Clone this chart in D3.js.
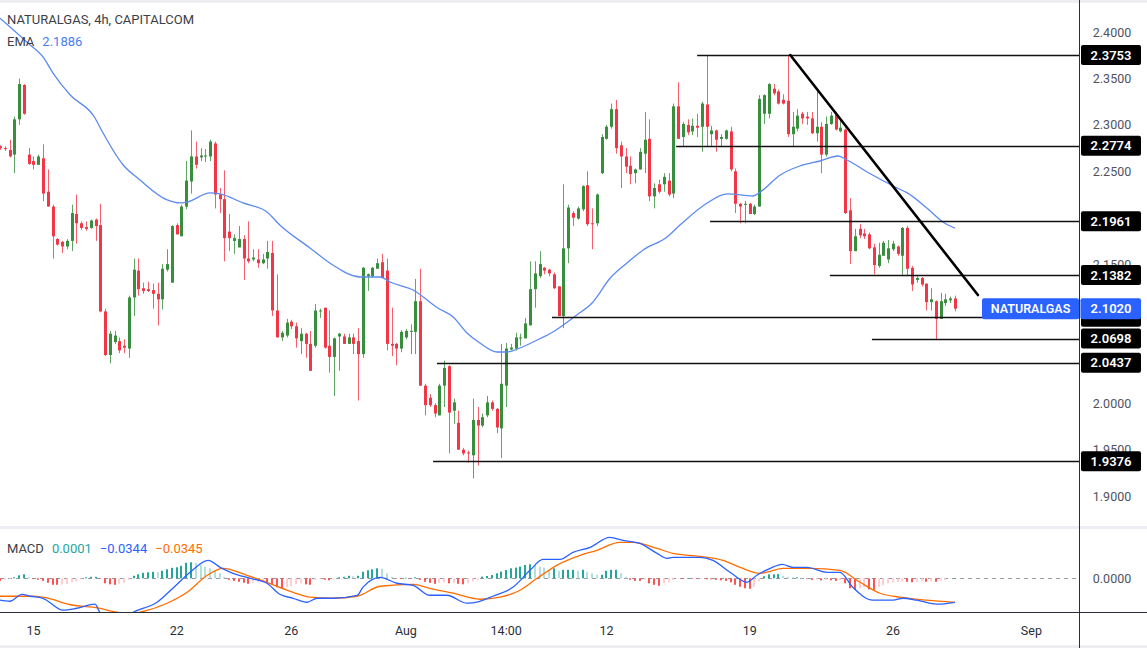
<!DOCTYPE html>
<html><head><meta charset="utf-8">
<script src="https://cdn.jsdelivr.net/npm/d3@7/dist/d3.min.js"></script>
<style>
html,body{margin:0;padding:0;background:#fff;}
svg{display:block;font-family:Roboto,"Noto Sans","DejaVu Sans",sans-serif;}
</style></head><body>
<svg id="chart" width="1147" height="648"></svg>
<script>
// ---------- DATA (4h candles, NATURALGAS) ----------
const open = [
2.277,2.275,2.273,2.268,2.306,2.343,2.268,2.261,2.257,2.264,
2.228,2.212,2.177,2.174,2.169,2.175,2.204,2.194,2.190,2.189,
2.198,2.192,2.099,2.052,2.066,2.067,2.062,2.059,2.114,2.143,
2.124,2.123,2.122,2.118,2.112,2.144,2.130,2.192,2.180,2.212,
2.239,2.266,2.265,2.266,2.266,2.280,2.225,2.220,2.185,2.175,
2.168,2.177,2.156,2.155,2.155,2.151,2.156,2.162,2.100,2.071,
2.073,2.088,2.083,2.067,2.075,2.064,2.062,2.099,2.103,2.062,
2.050,2.072,2.072,2.064,2.071,2.067,2.053,2.137,2.137,2.145,
2.152,2.143,2.064,2.064,2.059,2.071,2.077,2.077,2.110,2.019,
2.006,1.998,1.987,2.019,2.040,1.992,1.979,1.950,1.947,1.944,
1.982,1.976,1.987,2.001,1.994,1.973,2.019,2.058,2.059,2.070,
2.070,2.084,2.123,2.137,2.146,2.144,2.139,2.126,2.094,2.167,
2.205,2.199,2.209,2.235,2.194,2.194,2.248,2.285,2.298,2.317,
2.278,2.266,2.256,2.248,2.252,2.269,2.285,2.223,2.236,2.236,
2.240,2.226,2.320,2.287,2.300,2.293,2.299,2.298,2.322,2.290,
2.294,2.285,2.285,2.293,2.250,2.215,2.214,2.215,2.204,2.212,
2.312,2.312,2.339,2.336,2.327,2.326,2.290,2.296,2.312,2.309,
2.307,2.291,2.298,2.268,2.301,2.311,2.293,2.295,2.208,2.164,
2.188,2.183,2.182,2.168,2.148,2.159,2.155,2.166,2.169,2.159,
2.189,2.146,2.133,2.135,2.129,2.109,2.110,2.091,2.108,2.111,
2.113];
const high = [
2.278,2.277,2.284,2.309,2.350,2.344,2.275,2.266,2.268,2.279,
2.252,2.214,2.178,2.175,2.177,2.214,2.225,2.196,2.196,2.198,
2.199,2.215,2.102,2.078,2.078,2.071,2.069,2.116,2.156,2.156,
2.130,2.131,2.129,2.130,2.150,2.166,2.192,2.194,2.214,2.261,
2.294,2.282,2.275,2.274,2.284,2.282,2.232,2.251,2.204,2.182,
2.191,2.181,2.196,2.166,2.166,2.161,2.175,2.175,2.139,2.078,
2.091,2.090,2.087,2.081,2.076,2.078,2.107,2.102,2.103,2.100,
2.071,2.076,2.075,2.075,2.075,2.081,2.147,2.140,2.147,2.156,
2.161,2.156,2.103,2.065,2.079,2.080,2.085,2.134,2.145,2.021,
2.010,2.000,2.021,2.046,2.041,2.005,1.992,1.952,1.949,2.005,
1.996,1.989,2.008,2.003,1.995,2.064,2.065,2.064,2.076,2.075,
2.092,2.153,2.153,2.164,2.147,2.145,2.141,2.126,2.236,2.214,
2.207,2.212,2.235,2.250,2.210,2.226,2.290,2.300,2.323,2.327,
2.282,2.275,2.266,2.253,2.275,2.314,2.306,2.237,2.241,2.248,
2.248,2.323,2.346,2.303,2.306,2.307,2.312,2.325,2.3753,2.299,
2.295,2.290,2.295,2.298,2.253,2.216,2.218,2.216,2.214,2.332,
2.333,2.345,2.344,2.338,2.333,2.3753,2.314,2.317,2.314,2.314,
2.314,2.339,2.303,2.309,2.314,2.314,2.306,2.296,2.221,2.188,
2.193,2.188,2.184,2.172,2.173,2.175,2.176,2.175,2.170,2.190,
2.191,2.148,2.137,2.136,2.129,2.124,2.111,2.119,2.118,2.115,
2.116];
const low = [
2.273,2.272,2.265,2.248,2.300,2.311,2.257,2.252,2.257,2.218,
2.212,2.156,2.170,2.162,2.166,2.164,2.172,2.187,2.186,2.188,
2.175,2.098,2.051,2.043,2.064,2.054,2.054,2.049,2.094,2.116,
2.118,2.120,2.102,2.084,2.101,2.142,2.130,2.182,2.180,2.209,
2.226,2.253,2.261,2.260,2.261,2.210,2.205,2.153,2.164,2.161,
2.168,2.133,2.151,2.153,2.146,2.150,2.145,2.094,2.071,2.067,
2.071,2.080,2.060,2.053,2.049,2.035,2.060,2.092,2.059,2.033,
2.008,2.035,2.064,2.064,2.053,2.003,2.049,2.121,2.135,2.145,
2.135,2.057,2.051,2.041,2.055,2.069,2.053,2.053,2.019,1.987,
1.996,1.985,1.987,1.996,1.946,1.978,1.950,1.944,1.936,1.919,
1.933,1.974,1.985,1.992,1.968,1.941,1.996,2.057,2.057,2.062,
2.070,2.084,2.103,2.135,2.139,2.137,2.123,2.094,2.081,2.151,
2.191,2.198,2.207,2.191,2.166,2.191,2.247,2.284,2.296,2.269,
2.232,2.248,2.236,2.237,2.252,2.248,2.218,2.210,2.226,2.228,
2.223,2.221,2.285,2.277,2.289,2.289,2.287,2.271,2.277,2.277,
2.271,2.277,2.284,2.250,2.205,2.194,2.194,2.204,2.203,2.212,
2.301,2.307,2.332,2.322,2.322,2.287,2.277,2.293,2.301,2.300,
2.290,2.282,2.248,2.266,2.300,2.294,2.292,2.204,2.150,2.164,
2.178,2.177,2.166,2.139,2.146,2.159,2.151,2.164,2.159,2.137,
2.137,2.121,2.130,2.126,2.100,2.100,2.068,2.091,2.105,2.108,
2.099];
const close = [
2.275,2.274,2.266,2.306,2.344,2.312,2.258,2.257,2.266,2.226,
2.212,2.180,2.171,2.169,2.175,2.205,2.194,2.189,2.188,2.197,
2.191,2.099,2.052,2.075,2.073,2.057,2.060,2.114,2.144,2.123,
2.121,2.121,2.118,2.112,2.145,2.150,2.191,2.182,2.212,2.240,
2.266,2.257,2.267,2.267,2.282,2.225,2.220,2.178,2.178,2.178,
2.177,2.156,2.153,2.157,2.151,2.155,2.163,2.100,2.071,2.076,
2.087,2.083,2.070,2.075,2.064,2.035,2.100,2.100,2.060,2.050,
2.070,2.075,2.064,2.071,2.064,2.053,2.146,2.139,2.146,2.151,
2.135,2.064,2.062,2.059,2.077,2.078,2.078,2.110,2.019,1.998,
1.998,1.989,2.019,2.038,1.990,2.001,1.950,1.946,1.946,1.982,
1.976,1.985,2.001,1.994,1.974,2.021,2.059,2.060,2.071,2.071,
2.086,2.123,2.140,2.150,2.143,2.140,2.124,2.094,2.167,2.211,
2.200,2.210,2.234,2.193,2.193,2.225,2.287,2.298,2.317,2.275,
2.266,2.255,2.247,2.252,2.271,2.284,2.223,2.232,2.228,2.244,
2.225,2.320,2.285,2.301,2.292,2.299,2.297,2.323,2.298,2.294,
2.284,2.287,2.294,2.252,2.215,2.212,2.215,2.204,2.212,2.328,
2.332,2.344,2.334,2.323,2.323,2.290,2.298,2.310,2.307,2.307,
2.291,2.298,2.268,2.301,2.310,2.295,2.297,2.205,2.164,2.180,
2.181,2.180,2.167,2.149,2.160,2.173,2.167,2.172,2.161,2.189,
2.145,2.128,2.135,2.128,2.109,2.112,2.091,2.110,2.112,2.113,
2.102];

// EMA read at sampled bar positions
const emaIdx = [0,5.9,9,11.1,14.7,19.9,20.9,25.8,29.3,35,37.7,39.2,44,46.1,50.9,55.9,58.6,64.9,69.7,75.4,79.6,81.7,86.5,91.7,94.9,97.8,100.5,104.1,106.2,108.9,112.5,115.8,120.8,124,127.8,131.3,134.7,139.7,142.4,148.1,152.3,157.7,159.2,163.4,167.5,171.7,175.5,177.4,181.6,187.9,190,194.1,197.5,200];
const emaVal = [2.415,2.388,2.3732,2.3559,2.3322,2.3074,2.2977,2.2568,2.2407,2.2192,2.2159,2.2170,2.2267,2.2256,2.2159,2.2062,2.1921,2.1674,2.1490,2.1361,2.1361,2.1307,2.1221,2.1027,2.0930,2.0758,2.0650,2.0553,2.0553,2.0596,2.0682,2.0769,2.0952,2.1081,2.1350,2.1512,2.1652,2.1792,2.1921,2.2159,2.2256,2.2234,2.2277,2.2460,2.2557,2.2611,2.2665,2.2622,2.2493,2.2320,2.2267,2.2105,2.1954,2.1886];

// MACD line / signal line read at sampled bar positions
const macdIdx = [0,2.1,4.6,6.3,9,13.2,16.1,19.9,20.9,23,25.5,27.9,32.9,36.2,39.8,43.6,46.1,48.8,52.4,55.9,58.6,61.4,64.3,66.4,69.7,74.8,76,79.6,83.1,86.5,90,93.6,97.8,100.5,103.2,107.4,111,113.7,117.3,120,123.6,127.7,130.5,134,137.6,139.7,140.9,146.6,149.3,152.9,156.4,158.5,161.3,163.8,166.1,169,173.2,175.9,178.6,182.8,187,189.1,192,196.2,200];
const macdVal = [-0.0314,-0.0329,-0.0229,-0.0257,-0.0286,-0.0457,-0.0429,-0.0371,-0.0486,-0.057,-0.0586,-0.0486,-0.0343,-0.0143,0.0086,0.0257,0.0157,0.0071,0,-0.0071,-0.0229,-0.0286,-0.0343,-0.0286,-0.0286,-0.0243,-0.0129,0.0014,-0.0071,-0.01,-0.0243,-0.0243,-0.0357,-0.0329,-0.0257,-0.0129,0.0114,0.0271,0.0271,0.0371,0.0443,0.0586,0.0543,0.05,0.0357,0.0286,0.03,0.03,0.0257,0.0086,-0.0057,0.0043,0.0143,0.02,0.0157,0.0157,0.0086,0.0086,-0.0129,-0.0314,-0.0314,-0.0286,-0.0314,-0.0371,-0.0344];
const signalIdx = [0,6.9,9,15.3,19.5,24.5,26.8,29.3,35,39.2,43.4,46.7,51.7,55.9,61.4,64.9,69.7,74.8,79.6,86.5,90,94.9,100.5,104.7,108.9,112.5,116.6,121.5,125,129.8,132.6,137.6,140.9,146.6,151.4,155,159.2,164,169.6,175.9,180.1,184.3,188.5,194.1,200];
const signalVal = [-0.0257,-0.0257,-0.0271,-0.0386,-0.0414,-0.0486,-0.0514,-0.0486,-0.0357,-0.02,0.0043,0.0143,0.0043,-0.0057,-0.02,-0.0271,-0.0286,-0.0257,-0.0114,-0.0086,-0.0143,-0.0214,-0.03,-0.0271,-0.0171,0,0.0186,0.0329,0.04,0.0514,0.0514,0.0429,0.0357,0.0314,0.0257,0.0157,0.0071,0.0143,0.0143,0.0114,-0.0057,-0.0214,-0.0271,-0.0314,-0.0345];
// MACD histogram, one per bar
const hist = [
-0.0036,-0.0021,-0.0007,0.0014,0.0043,0.0057,0.0021,-0.0007,-0.0021,-0.0036,
-0.0064,-0.0093,-0.0093,-0.0086,-0.0079,-0.0057,-0.0043,-0.0014,0.0014,0.0021,
0.0021,-0.0007,-0.0072,-0.0086,-0.0093,-0.0079,-0.0064,-0.0021,0.0036,0.0057,
0.0079,0.0086,0.0093,0.0086,0.0107,0.0129,0.0150,0.0158,0.0179,0.0222,
0.0229,0.0222,0.0193,0.0165,0.0143,0.0107,0.0072,0.0021,-0.0021,-0.0036,
-0.0050,-0.0064,-0.0079,-0.0064,-0.0050,-0.0043,-0.0057,-0.0093,-0.0129,-0.0143,
-0.0129,-0.0115,-0.0086,-0.0072,-0.0086,-0.0093,-0.0021,-0.0014,-0.0021,-0.0029,
-0.0014,0.0014,0.0021,0.0036,0.0029,0.0036,0.0093,0.0115,0.0129,0.0143,
0.0136,0.0072,0.0021,-0.0007,-0.0007,0.0007,-0.0007,0.0014,-0.0021,-0.0050,
-0.0064,-0.0079,-0.0064,-0.0057,-0.0072,-0.0064,-0.0079,-0.0086,-0.0072,-0.0043,
-0.0021,0.0024,0.0033,0.0047,0.0072,0.0096,0.0119,0.0143,0.0153,0.0168,
0.0191,0.0201,0.0191,0.0168,0.0153,0.0119,0.0143,0.0107,0.0122,0.0122,
0.0122,0.0107,0.0122,0.0093,0.0072,0.0050,0.0050,0.0107,0.0122,0.0122,
0.0072,0.0021,-0.0021,-0.0036,-0.0036,-0.0021,-0.0072,-0.0093,-0.0107,-0.0072,
-0.0057,-0.0021,-0.0007,-0.0007,0.0004,-0.0004,-0.0007,-0.0004,-0.0014,-0.0014,
-0.0021,-0.0029,-0.0036,-0.0057,-0.0093,-0.0122,-0.0143,-0.0150,-0.0122,-0.0043,
0.0029,0.0057,0.0057,0.0060,0.0036,0.0021,0.0014,0.0014,0.0007,-0.0007,
-0.0021,-0.0014,-0.0029,-0.0021,-0.0029,-0.0036,-0.0029,-0.0072,-0.0143,-0.0165,
-0.0143,-0.0129,-0.0158,-0.0165,-0.0129,-0.0100,-0.0072,-0.0057,-0.0050,-0.0043,
-0.0050,-0.0057,-0.0050,-0.0043,-0.0050,-0.0043,-0.0050,-0.0036,-0.0021,-0.0007,
0.0001];

// drawn support/resistance levels: price and starting bar
const levelPrice = [2.3753,2.2774,2.1961,2.1382,2.0932,2.0698,2.0437,1.9376];
const levelStart = [146,141.6,148.7,173.8,115.6,182.6,91.5,90.7];
// drawn trend line (bar, price)
const trendIdx = [165.5,204.8];
const trendVal = [2.3753,2.1167];

const priceTicks = [2.40,2.35,2.30,2.25,2.20,2.15,2.10,2.05,2.00,1.95,1.90];
const timeTickIdx = [7,37,61,85,106,127,157,187,216];
const timeTickLabel = ["15","22","26","Aug","14:00","12","19","26","Sep"];
const lastPrice = 2.1020;
const emaLast = 2.1886;
const macdLegend = ["0.0001","\u22120.0344","\u22120.0345"];

// ---------- CHART ----------
const svg = d3.select('#chart');
const AX = 1079.5;
const UP = '#388e3c', DN = '#f23645';
const x = d3.scaleLinear().domain([0,226]).range([0,1079.15]);
const y = d3.scaleLinear().domain([1.9,2.4]).range([496.1,32.1]);
const ym = d3.scaleLinear().domain([-0.05,0.07]).range([613.2,529.44]);
const fmt = d3.format('.4f');

svg.append('rect').attr('width',1147).attr('height',648).attr('fill','#fff');
const defs = svg.append('defs');
defs.append('clipPath').attr('id','cMain').append('rect').attr('x',0).attr('y',3).attr('width',AX).attr('height',523);
defs.append('clipPath').attr('id','cMacd').append('rect').attr('x',0).attr('y',529).attr('width',AX).attr('height',83);

// candles
const idx = d3.range(open.length);
const gC = svg.append('g').attr('clip-path','url(#cMain)');
const col = i => close[i] >= open[i] ? UP : DN;
gC.selectAll('line.wick').data(idx).join('line').attr('class','wick')
  .attr('x1',i=>Math.round(x(i))+0.5).attr('x2',i=>Math.round(x(i))+0.5)
  .attr('y1',i=>y(high[i])).attr('y2',i=>y(low[i]))
  .attr('stroke',col).attr('stroke-width',1).attr('stroke-opacity',0.8);
gC.selectAll('rect.body').data(idx).join('rect').attr('class','body')
  .attr('x',i=>Math.round(x(i))-1).attr('width',3)
  .attr('y',i=>y(Math.max(open[i],close[i])))
  .attr('height',i=>Math.max(1,Math.abs(y(open[i])-y(close[i]))))
  .attr('fill',col);

// EMA
const emaPts = emaIdx.map((d,k)=>[d,emaVal[k]]);
gC.append('path').datum(emaPts)
  .attr('d',d3.line().x(d=>x(d[0])).y(d=>y(d[1])).curve(d3.curveMonotoneX))
  .attr('fill','none').attr('stroke','#5b8af0').attr('stroke-width',1.3);

// levels
levelPrice.forEach((p,k)=>{
  gC.append('line').attr('x1',x(levelStart[k])).attr('x2',AX)
    .attr('y1',Math.round(y(p))+0.5).attr('y2',Math.round(y(p))+0.5)
    .attr('stroke','#111').attr('stroke-width',1.5);
});
gC.append('line').attr('x1',x(trendIdx[0])).attr('y1',y(trendVal[0]))
  .attr('x2',x(trendIdx[1])).attr('y2',y(trendVal[1]))
  .attr('stroke','#000').attr('stroke-width',2.6).attr('stroke-linecap','round');

// frame bands
svg.append('rect').attr('x',0).attr('y',0).attr('width',1147).attr('height',3).attr('fill','#eceef3');
svg.append('rect').attr('x',0).attr('y',526).attr('width',1147).attr('height',3).attr('fill','#eceef3');
svg.append('rect').attr('x',0).attr('y',645).attr('width',1147).attr('height',3).attr('fill','#eceef3');

// axes lines
svg.append('line').attr('x1',AX).attr('x2',AX).attr('y1',0).attr('y2',648).attr('stroke','#2a2e39').attr('stroke-width',1);
svg.append('line').attr('x1',0).attr('x2',1147).attr('y1',612.5).attr('y2',612.5).attr('stroke','#2a2e39').attr('stroke-width',1);

// price ticks (ticks that sit fully under a price label are hidden, as on the reference)
const labelYs = levelPrice.concat([lastPrice]).map(p=>y(p));
const visTicks = priceTicks.filter(t => labelYs.every(ly => Math.abs(ly - y(t)) > 8));
svg.append('g').selectAll('text').data(visTicks).join('text')
  .attr('x',1112).attr('y',d=>y(d)+4.5).attr('text-anchor','middle')
  .attr('font-size',12.5).attr('fill','#50535e').text(d=>fmt(d));

// level labels
const gL = svg.append('g');
levelPrice.forEach(p=>{
  gL.append('rect').attr('x',1081).attr('y',y(p)-10).attr('width',60).attr('height',20).attr('rx',2).attr('fill','#000');
  if (Math.abs(y(p) - y(lastPrice)) > 10) {
    gL.append('text').attr('x',1111).attr('y',y(p)+4.6).attr('text-anchor','middle')
      .attr('font-size',13).attr('font-weight',600).attr('fill','#fff').text(fmt(p));
  }
});
// last price label
const ly = y(lastPrice);
gL.append('rect').attr('x',982).attr('y',ly-10.5).attr('width',97).attr('height',21).attr('rx',2).attr('fill','#2962ff');
gL.append('text').attr('x',1030.5).attr('y',ly+4.6).attr('text-anchor','middle')
  .attr('font-size',12.5).attr('font-weight',600).attr('fill','#fff').text('NATURALGAS');
gL.append('rect').attr('x',1080.5).attr('y',ly-10.5).attr('width',60.5).attr('height',21).attr('rx',2).attr('fill','#2962ff');
gL.append('text').attr('x',1111).attr('y',ly+4.6).attr('text-anchor','middle')
  .attr('font-size',13).attr('font-weight',600).attr('fill','#fff').text(fmt(lastPrice));

// MACD pane
const gM = svg.append('g').attr('clip-path','url(#cMacd)');
gM.append('line').attr('x1',0).attr('x2',AX).attr('y1',Math.round(ym(0))+0.5).attr('y2',Math.round(ym(0))+0.5)
  .attr('stroke','#9598a1').attr('stroke-dasharray','4,4').attr('stroke-width',1);
const hcol = i => { const v = hist[i], pv = i>0 ? hist[i-1] : v;
  return v >= 0 ? (v >= pv ? '#26a69a' : '#b2dfdb') : (v <= pv ? '#ff5252' : '#ffcdd2'); };
gM.selectAll('rect.h').data(idx).join('rect').attr('class','h')
  .attr('x',i=>Math.round(x(i))-1).attr('width',2)
  .attr('y',i=>Math.min(ym(hist[i]),ym(0)))
  .attr('height',i=>Math.max(0.6,Math.abs(ym(hist[i])-ym(0))))
  .attr('fill',hcol);
const mline = d3.line().x(d=>x(d[0])).y(d=>ym(d[1])).curve(d3.curveMonotoneX);
gM.append('path').datum(signalIdx.map((d,k)=>[d,signalVal[k]])).attr('d',mline)
  .attr('fill','none').attr('stroke','#ff6d00').attr('stroke-width',1.3);
gM.append('path').datum(macdIdx.map((d,k)=>[d,macdVal[k]])).attr('d',mline)
  .attr('fill','none').attr('stroke','#2962ff').attr('stroke-width',1.3);
svg.append('text').attr('x',1112).attr('y',ym(0)+4.5).attr('text-anchor','middle')
  .attr('font-size',12.5).attr('fill','#50535e').text(fmt(0));

// time axis
svg.append('g').selectAll('text').data(timeTickIdx).join('text')
  .attr('x',d=>x(d)).attr('y',634.5).attr('text-anchor','middle')
  .attr('font-size',12.5).attr('fill','#2a2e39').text((d,k)=>timeTickLabel[k]);

// legends
svg.append('text').attr('x',7).attr('y',24).attr('font-size',13).attr('fill','#3b3e47').text('NATURALGAS, 4h, CAPITALCOM');
const e = svg.append('text').attr('x',7).attr('y',46).attr('font-size',13);
e.append('tspan').attr('fill','#3b3e47').text('EMA');
e.append('tspan').attr('dx',8).attr('fill','#4a7cf6').text(d3.format('.4f')(emaLast));
const m = svg.append('text').attr('x',7).attr('y',553).attr('font-size',13);
m.append('tspan').attr('fill','#3b3e47').text('MACD');
m.append('tspan').attr('dx',8).attr('fill','#26a69a').text(macdLegend[0]);
m.append('tspan').attr('dx',8).attr('fill','#2962ff').text(macdLegend[1]);
m.append('tspan').attr('dx',8).attr('fill','#ff6d00').text(macdLegend[2]);
</script>
</body></html>
